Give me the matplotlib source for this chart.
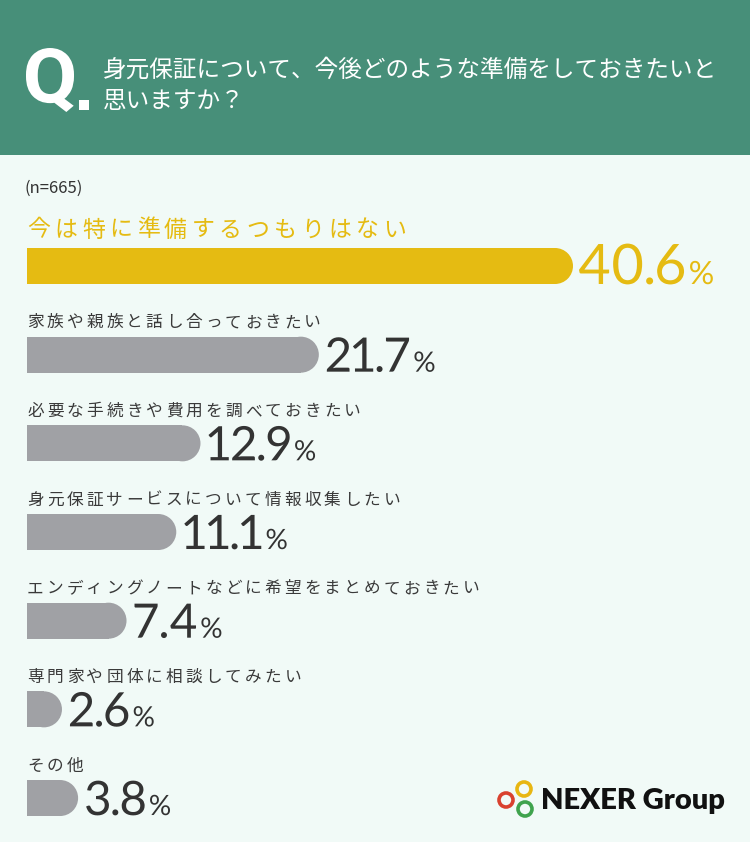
import matplotlib
matplotlib.use("Agg")
import matplotlib.pyplot as plt
from matplotlib.patches import Rectangle, Ellipse, Circle, PathPatch
from matplotlib.textpath import TextPath
from matplotlib.font_manager import FontProperties
from matplotlib.transforms import Affine2D

JP = ['Noto Sans CJK JP', 'DejaVu Sans']
NUM = ['Lato', 'DejaVu Sans']

title_lines = ['身元保証について、今後どのような準備をしておきたいと', '思いますか？']
sample_note = '(n=665)'
categories = ['今は特に準備するつもりはない',
              '家族や親族と話し合っておきたい',
              '必要な手続きや費用を調べておきたい',
              '身元保証サービスについて情報収集したい',
              'エンディングノートなどに希望をまとめておきたい',
              '専門家や団体に相談してみたい',
              'その他']
values = [40.6, 21.7, 12.9, 11.1, 7.4, 2.6, 3.8]
highlight = 0
logo_text = 'NEXER Group'

BG = '#F1FAF7'
HEADER = '#478F79'
YELLOW = '#E5BB12'
GRAY = '#A0A1A5'
DARK = '#333333'
LABEL = '#3A3A3A'

fig = plt.figure(figsize=(7.5, 8.42), dpi=100, facecolor=BG)

# background / header in pixel coords (y down)
bg = fig.add_axes([0, 0, 1, 1])
bg.set_xlim(0, 750)
bg.set_ylim(842, 0)
bg.axis('off')
bg.add_patch(Rectangle((0, 0), 750, 155, color=HEADER, lw=0))

# big condensed "Q."
qp = TextPath((0, 0), 'Q', size=100, prop=FontProperties(family='Roboto', weight='bold'))
ext = qp.get_extents()
tr = Affine2D().translate(-ext.x0, -ext.y0).scale(48 / ext.width, -64 / ext.height).translate(26, 112)
bg.add_patch(PathPatch(tr.transform_path(qp), fc='white', ec='none'))
bg.add_patch(Rectangle((79, 100), 10, 10, color='white', lw=0))

bg.text(103, 70, title_lines[0], family=JP, fontsize=17, color='white', va='center')
bg.text(103, 101, title_lines[1], family=JP, fontsize=17, color='white', va='center')
bg.text(25, 188, sample_note, family=JP, fontsize=12, color=DARK, va='center')

# logo
for (cx, cy), c in zip([(524, 789), (506, 800), (525, 809)], ['#E8B612', '#D9412F', '#3FA34D']):
    bg.add_patch(Circle((cx, cy), 7, fill=False, ec=c, lw=2.6))
bg.text(541, 801, logo_text, family=NUM, fontsize=21, weight='heavy', color='#111111', va='center')

# bar axes: x in percent, y in rows
px_per = 546 / 40.6
pitch = 88.67
ax = fig.add_axes([27 / 750, 0, 723 / 750, 1])
ax.set_xlim(0, 723 / px_per)
ax.set_ylim((842 - 266) / pitch, -266 / pitch)
ax.axis('off')
ax.patch.set_alpha(0)

h = 36 / pitch
rx = 18 / px_per


def spaced(ax, i, s, adv, dy, **kw):
    for k, ch in enumerate(s):
        ax.annotate(ch, xy=(0, i), xytext=(k * adv, dy), textcoords='offset pixels',
                    ha='left', va='center', **kw)


def ink_text(x, base, s, size, color, weight, gap):
    # lay glyphs out by their ink width so the "1" stays narrow
    fp = FontProperties(family='Lato', weight=weight)
    for ch in s:
        tp = TextPath((0, 0), ch, size=size, prop=fp)
        e = tp.get_extents()
        t = Affine2D().translate(-e.x0, 0).scale(1, -1).translate(x, base)
        bg.add_patch(PathPatch(t.transform_path(tp), fc=color, ec='none', lw=0))
        x += e.width + gap
    return x


for i, (cat, v) in enumerate(zip(categories, values)):
    col = YELLOW if i == highlight else GRAY
    ax.barh(i, v - rx, height=h, left=0, color=col, lw=0)
    ax.add_patch(Ellipse((v - rx, i), 2 * rx, h, color=col, lw=0))
    dx, dy = ax.transData.transform((v, i))
    end_x, mid_y = dx, 842 - dy
    if i == highlight:
        spaced(ax, i, cat, 27.4, 36, family=JP, fontsize=16.5, color=YELLOW)
        x = ink_text(end_x + 6, mid_y + 18, f'{v:.1f}', 55.8, YELLOW, 'normal', 4)
        ink_text(x + 2, mid_y + 18, '%', 32, YELLOW, 'normal', 0)
    else:
        spaced(ax, i, cat, 19.8, 32, family=JP, fontsize=12, color=LABEL)
        x = ink_text(end_x + 8, mid_y + 17, f'{v:.1f}', 47.5, DARK, 'normal', 3.4)
        ink_text(x + 2, mid_y + 17, '%', 28, DARK, 'normal', 0)

fig.savefig('out.png', dpi=100, facecolor=BG)
